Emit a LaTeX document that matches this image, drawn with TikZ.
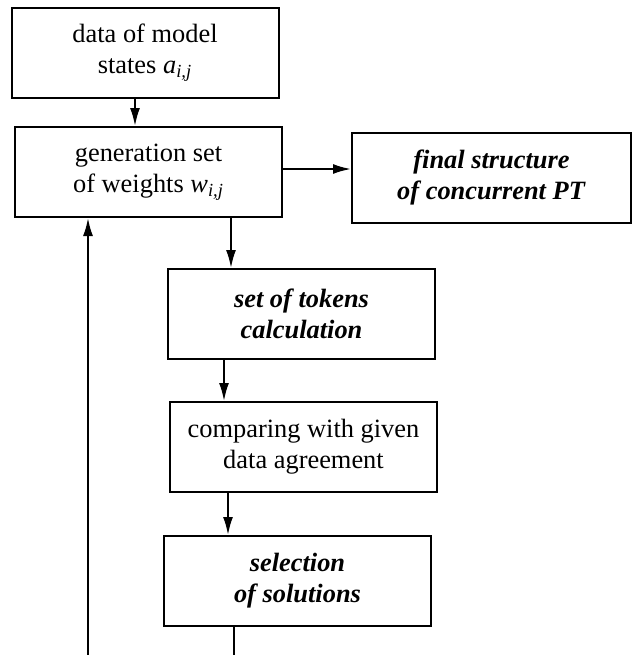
\documentclass[tikz,border=0pt]{standalone}
\usepackage{fontspec}
\setmainfont{Liberation Serif}
\usetikzlibrary{arrows.meta}
\tikzset{> = {Latex[length=9pt,width=5pt]}, every picture/.style={line width=1pt}}

\begin{document}
\begin{tikzpicture}[x=0.5pt,y=-0.5pt]
\useasboundingbox (0,0) rectangle (632,655);
\begin{scope}[every node/.style={rectangle,draw,align=center,minimum width=133.5pt,minimum height=45pt,inner sep=0pt,font=\fontsize{13.2}{15.5}\selectfont}]
\node (data) at (145,53) {data of model\\states \textit{a}\textsubscript{\textit{i,j}}};
\node (gen) at (148.5,172) {generation set\\of weights \textit{w}\textsubscript{\textit{i,j}}};
\node[minimum width=139.5pt] (final) at (491.5,178) {\textbf{\textit{final structure}}\\\textbf{\textit{of concurrent PT}}};
\node (tokens) at (301.5,314) {\textbf{\textit{set of tokens}}\\\textbf{\textit{calculation}}};
\node (comp) at (303.5,447) {comparing with given\\data agreement};
\node (sel) at (297.5,581) {\textbf{\textit{selection}}\\\textbf{\textit{of solutions}}};
\end{scope}

\coordinate (out) at (234,655);
\coordinate (back) at (88,655);

\draw[->] (data.south -| 135,0) -- (gen.north -| 135,0);
\draw[->] (gen.east |- 0,169) -- (final.west |- 0,169);
\draw[->] (gen.south -| 231,0) -- (tokens.north -| 231,0);
\draw[->] (tokens.south -| 224,0) -- (comp.north -| 224,0);
\draw[->] (comp.south -| 228,0) -- (sel.north -| 228,0);
\draw (sel.south -| out) -- (out);
\draw[->] (back) -- (gen.south -| back);
\end{tikzpicture}
\end{document}
